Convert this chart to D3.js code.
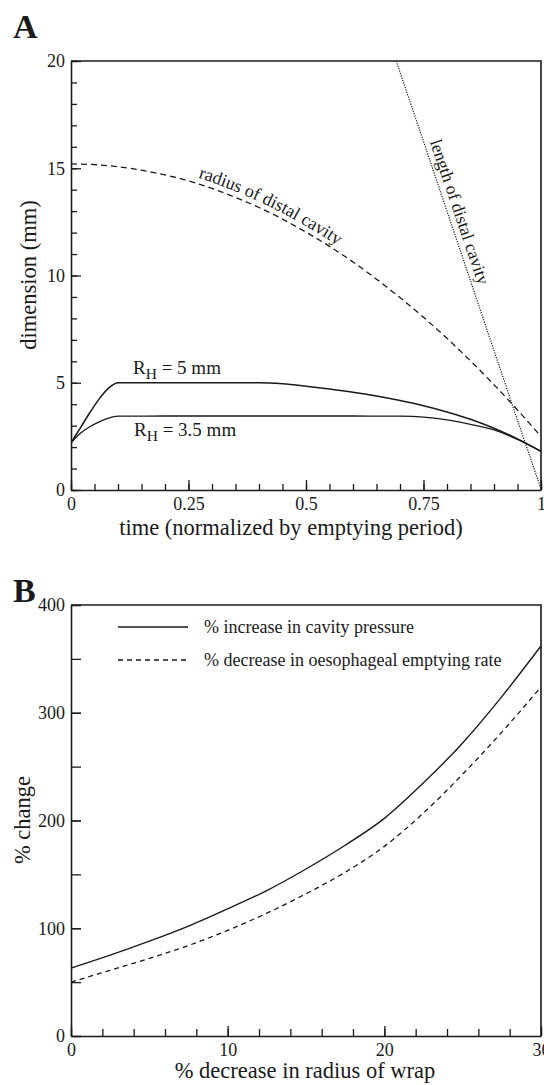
<!DOCTYPE html>
<html><head><meta charset="utf-8">
<script src="https://cdn.jsdelivr.net/npm/d3@7"></script>
<style>
html,body{margin:0;padding:0;background:#fff;}
svg{display:block;}
</style></head>
<body>
<svg id="chart" width="544" height="1085"></svg>
<script>
// ---------- Panel A data ----------
const radiusT  = [0,0.05,0.1,0.15,0.2,0.25,0.3,0.35,0.4,0.45,0.5,0.55,0.6,0.65,0.7,0.75,0.8,0.85,0.9,0.95,1.0];
const radiusMm = [15.2,15.17,15.07,14.91,14.69,14.41,14.06,13.64,13.17,12.63,12.02,11.36,10.63,9.83,8.97,8.05,7.07,6.02,4.91,3.73,2.5];
const lengthT  = [0.692,0.75,0.8,0.85,0.9,0.95,1.0];
const lengthMm = [20,16.25,13.0,9.75,6.5,3.25,0.05];
const rh5T  = [0,0.02,0.04,0.06,0.08,0.1,0.2,0.3,0.4,0.45,0.5,0.55,0.6,0.65,0.7,0.75,0.8,0.85,0.9,0.95,1.0];
const rh5Mm = [2.2,2.9,3.6,4.25,4.75,5.0,5.0,5.0,5.0,4.95,4.84,4.71,4.56,4.38,4.17,3.93,3.64,3.3,2.88,2.38,1.8];
const rh35T  = [0,0.02,0.04,0.06,0.08,0.1,0.2,0.3,0.4,0.5,0.6,0.7,0.75,0.8,0.85,0.9,0.95,1.0];
const rh35Mm = [2.2,2.65,2.95,3.18,3.35,3.44,3.45,3.45,3.45,3.45,3.45,3.44,3.4,3.27,3.06,2.8,2.36,1.8];
const aXTicks = [0,0.25,0.5,0.75,1];
const aYTicks = [0,5,10,15,20];
const aLabels = {radius:"radius of distal cavity", length:"length of distal cavity", rh5:" = 5 mm", rh35:" = 3.5 mm"};

// ---------- Panel B data ----------
const wrapDecrease     = [0,2.5,5,7.5,10,12.5,15,17.5,20,22.5,25,27.5,30];
const pressureIncrease = [63,75,88,102,118,135,155,177,202,235,272,315,362];
const emptyingDecrease = [50,61,72,84,98,114,132,152,176,207,243,282,324];
const bXTicks = [0,10,20,30];
const bYTicks = [0,100,200,300,400];
const legendLabels = ["% increase in cavity pressure","% decrease in oesophageal emptying rate"];

const FONT = "Liberation Serif";
const svg = d3.select("#chart");
const INK = "#1a1a1a";

function panel(o){
  const g = svg.append("g");
  const x = d3.scaleLinear().domain(o.xDomain).range([o.left,o.right]);
  const y = d3.scaleLinear().domain(o.yDomain).range([o.bottom,o.top]);
  g.append("g").attr("transform",`translate(0,${o.bottom})`)
    .call(d3.axisBottom(x).tickValues(o.xMinor).tickSize(-o.minorX).tickSizeOuter(0).tickFormat(""))
    .call(s=>s.select(".domain").remove());
  g.append("g").attr("transform",`translate(${o.left},0)`)
    .call(d3.axisLeft(y).tickValues(o.yMinor).tickSize(-o.minorY).tickSizeOuter(0).tickFormat(""))
    .call(s=>s.select(".domain").remove());
  const xa = g.append("g").attr("transform",`translate(0,${o.bottom})`)
    .call(d3.axisBottom(x).tickValues(o.xTicks).tickSize(-o.majorX).tickSizeOuter(0).tickPadding(7).tickFormat(o.xFmt));
  const ya = g.append("g").attr("transform",`translate(${o.left},0)`)
    .call(d3.axisLeft(y).tickValues(o.yTicks).tickSize(-o.majorY).tickSizeOuter(0).tickPadding(6).tickFormat(d3.format("d")));
  [xa,ya].forEach(a=>{
    a.selectAll("text").style("font-family",FONT).attr("font-size",18).attr("fill",INK);
    a.select(".domain").attr("stroke",INK).attr("stroke-width",1.6);
  });
  g.selectAll(".tick line").attr("stroke",INK).attr("stroke-width",1.3);
  g.append("path").attr("d",`M${o.left},${o.top}H${o.right}V${o.bottom}`)
    .attr("fill","none").attr("stroke",INK).attr("stroke-width",1.6);
  return {g,x,y};
}
function txt(x,y,size,s){
  return svg.append("text").attr("x",x).attr("y",y).attr("font-size",size).attr("fill",INK)
    .style("font-family",FONT).text(s);
}

// ---------- Panel A ----------
const A = panel({left:71,right:541,top:61,bottom:490,xDomain:[0,1],yDomain:[0,20],
  xTicks:aXTicks, yTicks:aYTicks, xMinor:d3.range(0,1.0001,0.05), yMinor:d3.range(0,20.001,1),
  majorX:10,minorX:6,majorY:10,minorY:6, xFmt:d=>String(d)});
svg.append("clipPath").attr("id","clipA").append("rect")
  .attr("x",71).attr("y",61).attr("width",470).attr("height",429);
const lineA = (ts,vs,curve)=>d3.line().x((d,i)=>A.x(ts[i])).y(d=>A.y(d)).curve(curve)(vs);
const curvesA = svg.append("g").attr("clip-path","url(#clipA)").attr("fill","none").attr("stroke",INK);
curvesA.append("path").attr("d",lineA(radiusT,radiusMm,d3.curveMonotoneX))
  .attr("stroke-width",1.3).attr("stroke-dasharray","6,4");
curvesA.append("path").attr("d",lineA(lengthT,lengthMm,d3.curveLinear))
  .attr("stroke-width",1.2).attr("stroke-dasharray","1.2,1.3");
curvesA.append("path").attr("d",lineA(rh5T,rh5Mm,d3.curveMonotoneX)).attr("stroke-width",1.5);
curvesA.append("path").attr("d",lineA(rh35T,rh35Mm,d3.curveMonotoneX)).attr("stroke-width",1.3);

// radius label following the curve
const offPath = d3.line().x((d,i)=>A.x(radiusT[i])).y(d=>A.y(d)-6).curve(d3.curveMonotoneX)(radiusMm);
const hp = svg.append("path").attr("id","radiusLabelPath").attr("d",offPath).attr("fill","none").attr("stroke","none");
const node = hp.node(); const total = node.getTotalLength();
let startLen = 0; const targetX = A.x(0.27);
for(let l=0;l<total;l+=0.5){ if(node.getPointAtLength(l).x>=targetX){startLen=l;break;} }
svg.append("text").attr("font-size",18).attr("fill",INK).style("font-family",FONT)
  .append("textPath").attr("href","#radiusLabelPath").attr("startOffset",startLen).text(aLabels.radius);

// length label along the dotted line
const p1=[A.x(lengthT[0]),A.y(lengthMm[0])], p2=[A.x(lengthT[lengthT.length-1]),A.y(lengthMm[lengthMm.length-1])];
const ang = Math.atan2(p2[1]-p1[1],p2[0]-p1[0])*180/Math.PI;
const midT = 0.803, midV = 20 - (midT-0.692)*65;
svg.append("text").attr("font-size",17.5).attr("fill",INK).attr("text-anchor","middle").style("font-family",FONT)
  .attr("transform",`translate(${A.x(midT)},${A.y(midV)}) rotate(${ang})`).attr("y",-6)
  .text(aLabels.length);

function rhLabel(xp,yp,s){
  const t = txt(xp,yp,19,null);
  t.append("tspan").text("R");
  t.append("tspan").attr("dy",5).attr("font-size",15.5).text("H");
  t.append("tspan").attr("dy",-5).text(s);
}
rhLabel(133,374,aLabels.rh5);
rhLabel(134,436,aLabels.rh35);

txt(13,38,34,"A").attr("font-weight","bold");
txt(291,535,22.5,"time (normalized by emptying period)").attr("text-anchor","middle");
svg.append("text").attr("transform","translate(36,275) rotate(-90)").attr("text-anchor","middle")
  .attr("font-size",22.5).attr("fill",INK).style("font-family",FONT).text("dimension (mm)");

// ---------- Panel B ----------
const B = panel({left:71,right:541,top:605,bottom:1036,xDomain:[0,30],yDomain:[0,400],
  xTicks:bXTicks, yTicks:bYTicks, xMinor:d3.range(0,30.001,2), yMinor:d3.range(0,400.001,50),
  majorX:10,minorX:7,majorY:10,minorY:10, xFmt:d3.format("d")});
const lineB = vs=>d3.line().x((d,i)=>B.x(wrapDecrease[i])).y(d=>B.y(d)).curve(d3.curveMonotoneX)(vs);
svg.append("path").attr("d",lineB(pressureIncrease)).attr("fill","none").attr("stroke",INK).attr("stroke-width",1.4);
svg.append("path").attr("d",lineB(emptyingDecrease)).attr("fill","none").attr("stroke",INK).attr("stroke-width",1.3)
  .attr("stroke-dasharray","5,4");

[[627,null],[660,"5,4"]].forEach((r,i)=>{
  svg.append("line").attr("x1",118).attr("x2",188).attr("y1",r[0]).attr("y2",r[0])
    .attr("stroke",INK).attr("stroke-width",1.4).attr("stroke-dasharray",r[1]);
  txt(204,r[0]+6,18,legendLabels[i]);
});

txt(13,602,34,"B").attr("font-weight","bold");
txt(305,1078,22.5,"% decrease in radius of wrap").attr("text-anchor","middle");
svg.append("text").attr("transform","translate(30,820) rotate(-90)").attr("text-anchor","middle")
  .attr("font-size",22.5).attr("fill",INK).style("font-family",FONT).text("% change");
</script>
</body></html>
